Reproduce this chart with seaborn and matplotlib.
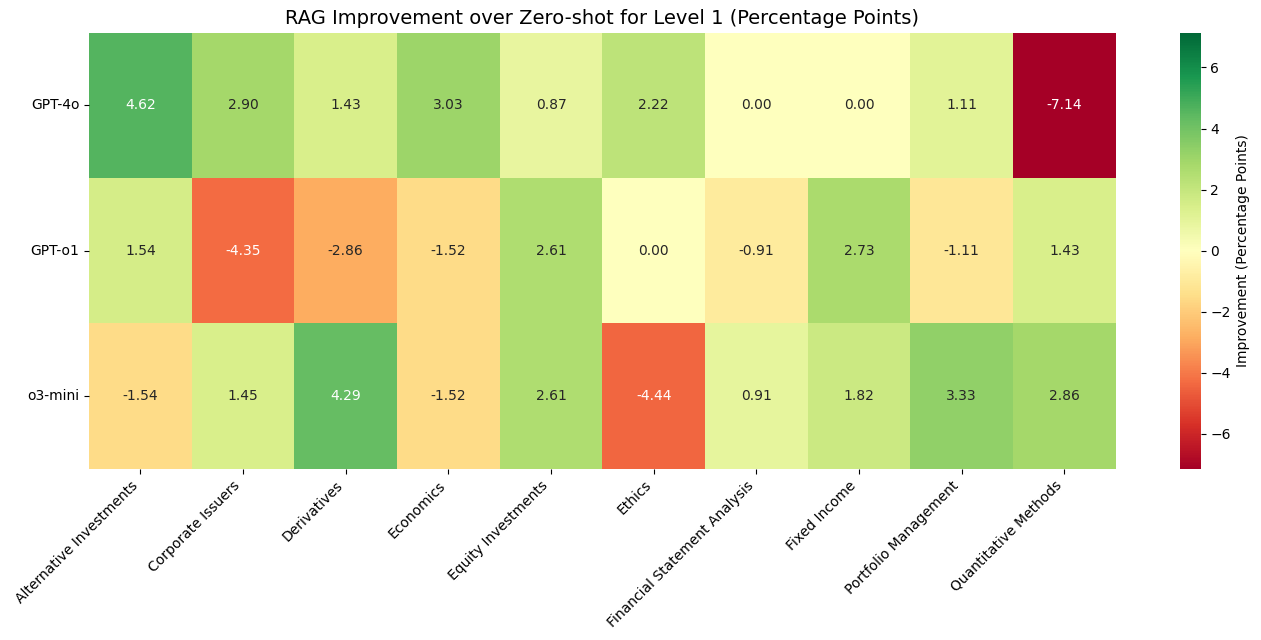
import matplotlib
matplotlib.use('Agg')
import matplotlib.pyplot as plt
import seaborn as sns
import pandas as pd
import numpy as np

models = ['GPT-4o', 'GPT-o1', 'o3-mini']
topics = ['Alternative Investments', 'Corporate Issuers', 'Derivatives', 'Economics',
          'Equity Investments', 'Ethics', 'Financial Statement Analysis', 'Fixed Income',
          'Portfolio Management', 'Quantitative Methods']

gpt4o = [4.62, 2.90, 1.43, 3.03, 0.87, 2.22, 0.00, 0.00, 1.11, -7.14]
gpto1 = [1.54, -4.35, -2.86, -1.52, 2.61, 0.00, -0.91, 2.73, -1.11, 1.43]
o3mini = [-1.54, 1.45, 4.29, -1.52, 2.61, -4.44, 0.91, 1.82, 3.33, 2.86]

df = pd.DataFrame([gpt4o, gpto1, o3mini], index=models, columns=topics)
lim = np.abs(df.values).max()

W, H = 1261, 640
fig = plt.figure(figsize=(W / 100, H / 100))
ax = fig.add_axes([89 / W, (H - 468.5) / H, (1115.7 - 89) / W, (468.5 - 32.7) / H])
cax = fig.add_axes([1180 / W, (H - 468.5) / H, 20.7 / W, (468.5 - 32.7) / H])

sns.heatmap(df, annot=True, fmt='.2f', cmap='RdYlGn', center=0, vmin=-lim, vmax=lim,
            cbar_ax=cax, cbar_kws={'label': 'Improvement (Percentage Points)'}, ax=ax)
ax.set_title('RAG Improvement over Zero-shot for Level 1 (Percentage Points)', fontsize=14)
plt.sca(ax)
plt.xticks(rotation=45, ha='right')
plt.yticks(rotation=0)
plt.savefig('out.png', dpi=100)
